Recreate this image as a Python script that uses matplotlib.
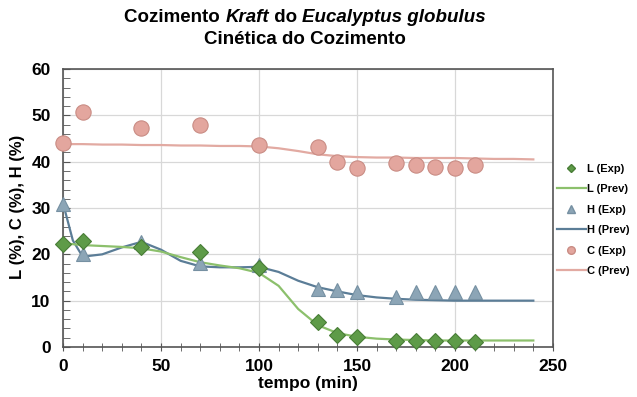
import matplotlib
matplotlib.use('Agg')
import matplotlib.pyplot as plt
from matplotlib.lines import Line2D
from matplotlib.ticker import MultipleLocator

plt.rcParams['font.family'] = ['Liberation Sans', 'DejaVu Sans']

# experimental points (tempo em min)
t_exp = [0, 10, 40, 70, 100, 130, 140, 150, 170, 180, 190, 200, 210]
L_exp = [22.3, 22.8, 21.5, 20.5, 17.0, 5.4, 2.6, 2.1, 1.3, 1.2, 1.2, 1.2, 1.0]
H_exp = [30.8, 20.0, 22.6, 18.1, 17.7, 12.6, 12.2, 11.8, 10.8, 11.9, 11.9, 11.9, 11.8]
C_exp = [44.0, 50.8, 47.2, 48.0, 43.6, 43.1, 40.0, 38.6, 39.7, 39.3, 38.9, 38.6, 39.3]

# model predictions
t_prev = [0, 5, 10, 20, 30, 40, 50, 60, 70, 80, 90, 100, 110, 120, 130,
          140, 150, 160, 170, 180, 190, 200, 210, 220, 230, 240]
L_prev = [22.3, 22.2, 22.0, 21.8, 21.6, 21.3, 20.6, 19.4, 18.3, 17.6, 17.0, 16.0,
          13.2, 8.2, 4.7, 3.0, 2.2, 1.8, 1.6, 1.5, 1.4, 1.4, 1.4, 1.4, 1.4, 1.4]
H_prev = [31.0, 23.0, 19.5, 20.0, 21.5, 22.7, 21.0, 18.6, 17.4, 17.2, 17.2, 17.3,
          16.2, 14.3, 12.9, 12.0, 11.2, 10.7, 10.4, 10.2, 10.1, 10.0, 10.0, 10.0, 10.0, 10.0]
C_prev = [43.8, 43.8, 43.8, 43.7, 43.7, 43.6, 43.6, 43.5, 43.5, 43.4, 43.4, 43.3,
          42.9, 42.3, 41.6, 41.2, 41.0, 40.9, 40.9, 40.8, 40.8, 40.8, 40.7, 40.6, 40.6, 40.5]

green = '#5e9b48'
green_line = '#8cc06c'
blue = '#8ca5b6'
blue_line = '#5b7d97'
pink = '#e3a69e'
pink_line = '#e2aaa2'

fig = plt.figure(figsize=(6.37, 3.97), dpi=100)
ax = fig.add_axes([0.099, 0.126, 0.769, 0.700])

ax.plot(t_prev, C_prev, color=pink_line, lw=1.6, zorder=2)
ax.plot(t_prev, H_prev, color=blue_line, lw=1.6, zorder=2)
ax.plot(t_prev, L_prev, color=green_line, lw=1.6, zorder=2)

ax.plot(t_exp, C_exp, 'o', ms=11, mfc=pink, mec='#c98c84', mew=0.8, zorder=3, clip_on=False)
ax.plot(t_exp, H_exp, '^', ms=10, mfc=blue, mec='#7690a2', mew=0.8, zorder=3, clip_on=False)
ax.plot(t_exp, L_exp, 'D', ms=8, mfc=green, mec='#487d36', mew=0.8, zorder=4, clip_on=False)

ax.set_xlim(0, 250)
ax.set_ylim(0, 60)
ax.xaxis.set_major_locator(MultipleLocator(50))
ax.xaxis.set_minor_locator(MultipleLocator(10))
ax.yaxis.set_major_locator(MultipleLocator(10))
ax.yaxis.set_minor_locator(MultipleLocator(2))
ax.grid(True, which='major', color='#d8d8d8', lw=0.9)
ax.set_axisbelow(True)
for s in ax.spines.values():
    s.set_color('#555555')
    s.set_linewidth(1.2)
ax.tick_params(axis='x', which='both', direction='inout', length=6, color='#555555')
ax.tick_params(axis='y', which='both', direction='in', length=5, color='#555555')
ax.tick_params(axis='x', which='major', labelsize=12.5, pad=6)
ax.tick_params(axis='y', which='major', labelsize=12.5, pad=9)
for lab in ax.get_xticklabels() + ax.get_yticklabels():
    lab.set_fontweight('bold')

fig.text(308 / 637, 0.033, 'tempo (min)', ha='center', va='center', fontsize=12.5, fontweight='bold')
fig.text(0.027, 1 - 207 / 397, 'L (%), C (%), H (%)', ha='center', va='center', rotation=90,
         fontsize=12, fontweight='bold')

# title with italic words
fig.canvas.draw()
r = fig.canvas.get_renderer()
parts = [('Cozimento ', 'normal'), ('Kraft', 'italic'), (' do ', 'normal'),
         ('Eucalyptus globulus', 'italic')]
texts = []
widths = []
for s, st in parts:
    tx = fig.text(0, 1 - 18 / 397, s, fontsize=13.5, fontweight='bold', style=st,
                  va='center', ha='left')
    texts.append(tx)
    widths.append(tx.get_window_extent(r).width)
x0 = 305 - sum(widths) / 2
for tx, w in zip(texts, widths):
    tx.set_x(x0 / 637)
    x0 += w
fig.text(305 / 637, 1 - 40 / 397, 'Cinética do Cozimento', ha='center', va='center',
         fontsize=13.5, fontweight='bold')

handles = [
    Line2D([], [], ls='none', marker='D', ms=4.5, mfc=green, mec='#487d36'),
    Line2D([], [], color=green_line, lw=1.6),
    Line2D([], [], ls='none', marker='^', ms=5.5, mfc=blue, mec='#7690a2'),
    Line2D([], [], color=blue_line, lw=1.6),
    Line2D([], [], ls='none', marker='o', ms=5.5, mfc=pink, mec='#c98c84'),
    Line2D([], [], color=pink_line, lw=1.6),
]
labels = ['L (Exp)', 'L (Prev)', 'H (Exp)', 'H (Prev)', 'C (Exp)', 'C (Prev)']
leg = fig.legend(handles, labels, loc='center left', bbox_to_anchor=(557 / 637, 1 - 220 / 397),
                 frameon=False, fontsize=8, handlelength=2.6, handletextpad=0.1,
                 labelspacing=0.95, borderpad=0, borderaxespad=0)
for t in leg.get_texts():
    t.set_fontweight('bold')

fig.savefig('out.png', dpi=100)
